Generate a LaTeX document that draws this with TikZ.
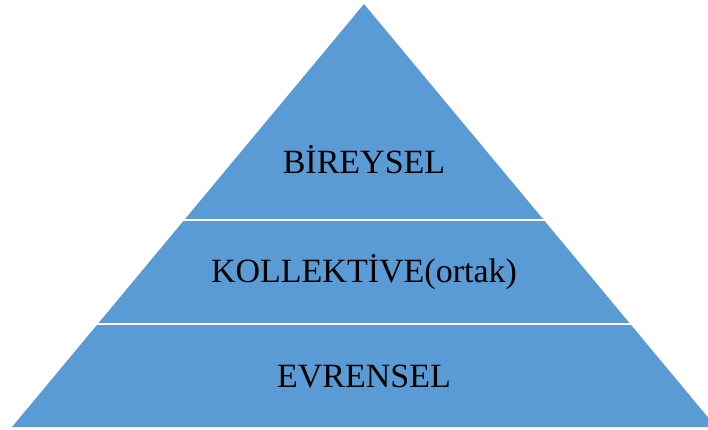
\documentclass[tikz,border=0pt]{standalone}
\usepackage{fontspec}
\setmainfont{Liberation Serif}
\definecolor{pyrblue}{HTML}{5B9BD5}
\begin{document}
\begin{tikzpicture}[x=1bp,y=-1bp,
  layer/.style={fill=pyrblue,draw=none},
  label/.style={anchor=base,inner sep=0pt,text=black,font=\fontsize{34bp}{40bp}\selectfont}]
\useasboundingbox (0,0) rectangle (708,429);
\clip (0,0) rectangle (708,429);
% top layer
\fill[layer] (364,4) -- (542.8,218.8) -- (185.2,218.8) -- cycle;
% middle layer
\fill[layer] (183.2,221.2) -- (544.8,221.2) -- (629.3,322.8) -- (98.7,322.8) -- cycle;
% bottom layer
\fill[layer] (96.7,325.2) -- (631.3,325.2) -- (716,427) -- (12,427) -- cycle;
\node[label] (top) at (364,173) {BİREYSEL};
\node[label] (mid) at (364,282) {KOLLEKTİVE(ortak)};
\node[label] (bot) at (364,387) {EVRENSEL};
\end{tikzpicture}
\end{document}
